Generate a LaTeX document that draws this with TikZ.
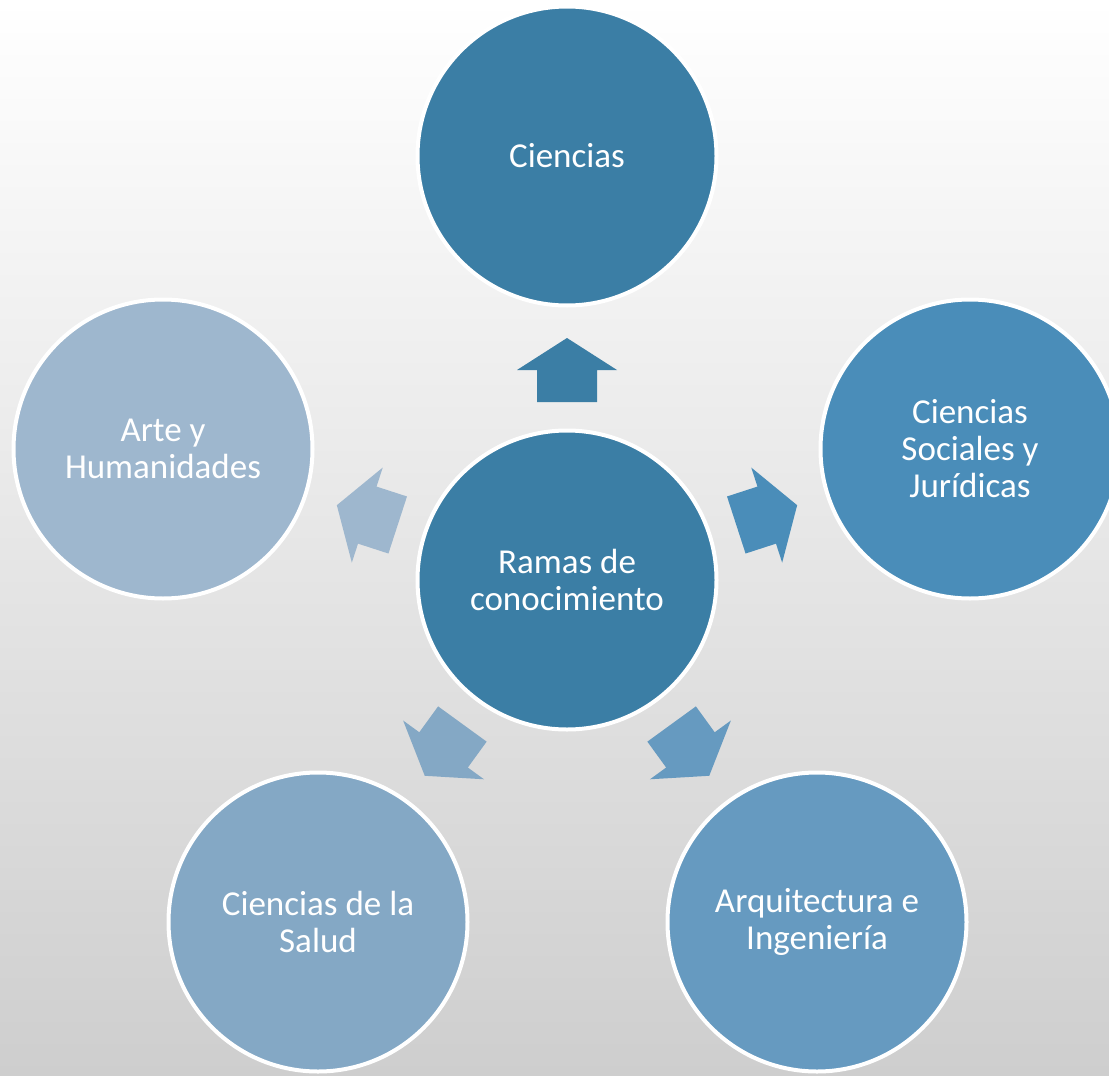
\documentclass[tikz,border=0pt]{standalone}
\usepackage{fontspec}
\setmainfont{Carlito}
\definecolor{cA}{RGB}{59,126,165}
\definecolor{cB}{RGB}{74,141,185}
\definecolor{cC}{RGB}{102,154,192}
\definecolor{cD}{RGB}{132,168,197}
\definecolor{cE}{RGB}{158,183,206}
\definecolor{bgtop}{RGB}{255,255,255}
\definecolor{bgbot}{RGB}{206,206,206}
\begin{document}
\begin{tikzpicture}[x=1pt,y=-1pt,
  bubble/.style={circle, draw=white, line width=4pt, minimum size=299pt, inner sep=0pt,
     text=white, align=center, font=\fontsize{35}{37}\selectfont},
  blockarrow/.style={draw=none}]
\useasboundingbox (0,0) rectangle (1109,1076);
\shade[top color=bgtop, bottom color=bgbot] (0,0) rectangle (1109,1076);
\clip (0,0) rectangle (1109,1076);
% nodes
\node[bubble, fill=cA] (ctr) at (567,580) {Ramas de\\conocimiento};
\node[bubble, fill=cA] (top) at (567,156) {Ciencias};
\node[bubble, fill=cB] (rgt) at (970,449) {Ciencias\\Sociales y\\Jurídicas};
\node[bubble, fill=cC] (brt) at (817,922) {Arquitectura e\\Ingeniería};
\node[bubble, fill=cD] (blt) at (318,922) {Ciencias de la\\Salud};
\node[bubble, fill=cE] (lft) at (163,449) {Arte y\\Humanidades};
% block arrows from centre towards each node
\foreach \ang/\col in {90/cA, 18/cB, -54/cC, -126/cD, 162/cE}{
  \begin{scope}[shift={(ctr.center)}, rotate=\ang, x=1pt, y=1pt]
    \fill[\col] (178,-30) -- (210,-30) -- (210,-50) -- (242,0) -- (210,50) -- (210,30) -- (178,30) -- cycle;
  \end{scope}
}
\end{tikzpicture}
\end{document}
